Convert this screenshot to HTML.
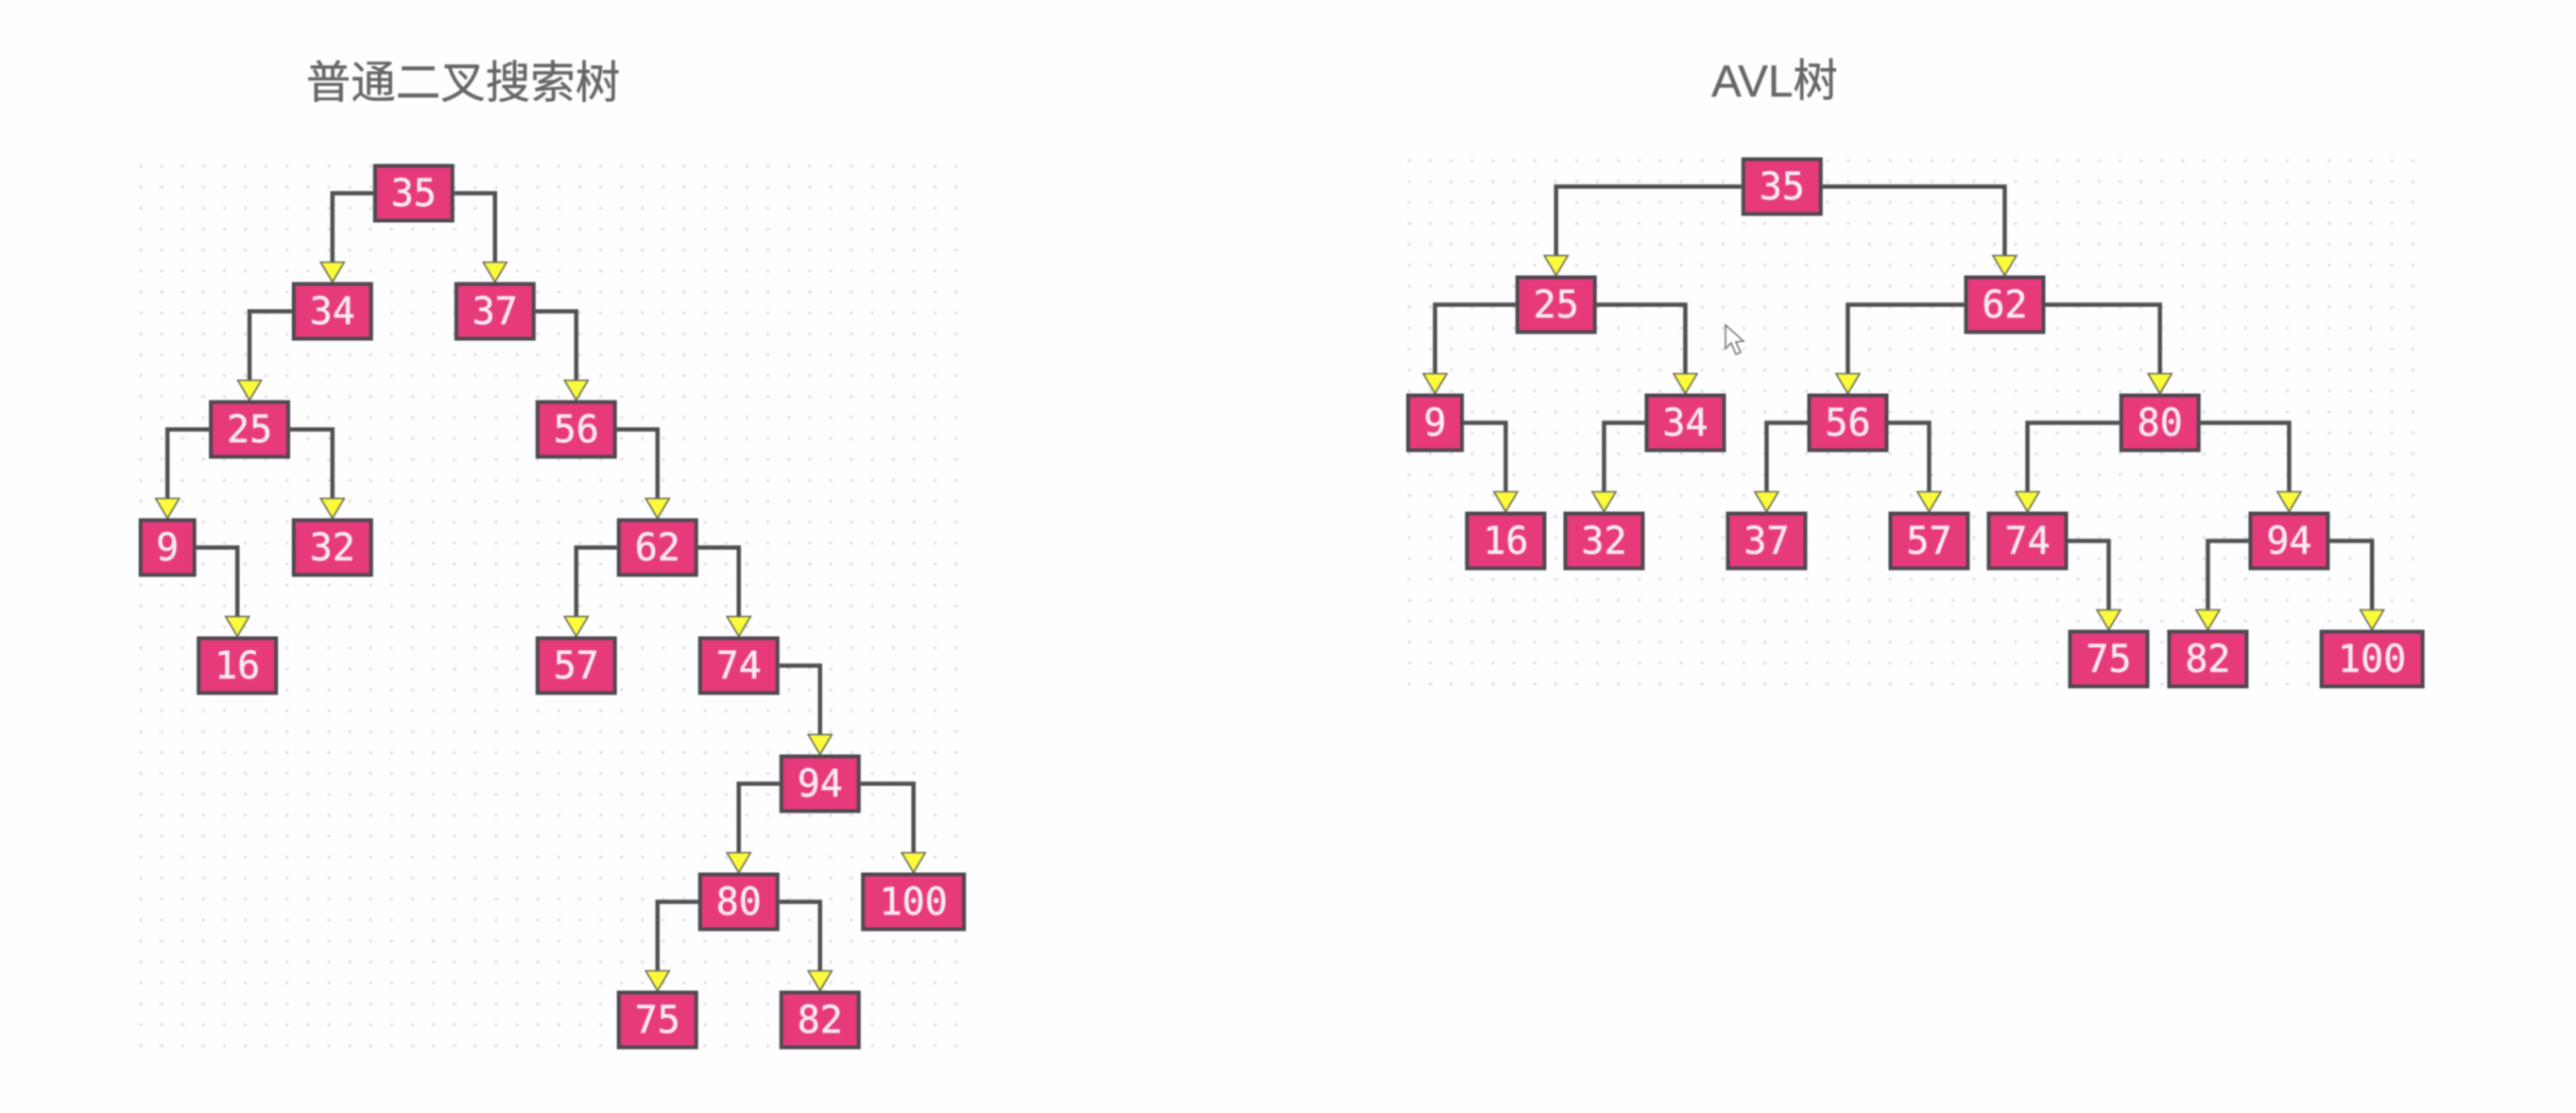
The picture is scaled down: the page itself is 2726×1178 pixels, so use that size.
<!DOCTYPE html>
<html lang="zh">
<head>
<meta charset="utf-8">
<title>普通二叉搜索树 与 AVL树</title>
<style>
html,body{margin:0;padding:0;background:#fefefe;}
body{width:2726px;height:1178px;overflow:hidden;}
svg{display:block;filter:blur(0.7px);}
.title{font-family:"Liberation Sans","Noto Sans CJK SC",sans-serif;font-size:47.5px;fill:#666666;stroke:#666666;stroke-width:0.4px;text-anchor:middle;}
.label{font-family:"DejaVu Sans Mono","Liberation Mono",monospace;font-size:40px;fill:#fdeaf4;stroke:#fdeaf4;stroke-width:0.5px;text-anchor:middle;}
</style>
</head>
<body>
<svg id="stage" xmlns="http://www.w3.org/2000/svg" width="2726" height="1178" viewBox="0 0 2726 1178">
  <text class="title" x="490" y="104">普通二叉搜索树</text>
  <text class="title" x="1878" y="102">AVL树</text>
  <g id="bst"></g>
  <g id="avl"></g>
  <path d="M1826 344 L1826 369 L1832 363 L1837 375 L1842 373 L1837 362 L1845 361 Z" fill="#ffffff" stroke="#777777" stroke-width="1.6"/>
</svg>
<script>
const bstValues = [35, 34, 37, 25, 9, 32, 16, 56, 62, 57, 74, 94, 80, 100, 75, 82];
const bstParents = [-1, 0, 0, 1, 3, 3, 4, 2, 7, 8, 8, 10, 11, 11, 12, 12];
const bstColumns = [0, -1, 1, -2.02, -3.03, -1, -2.17, 2, 3, 2, 4, 5, 4, 6.15, 3, 5];

const avlValues = [35, 25, 62, 9, 34, 16, 32, 56, 80, 37, 57, 74, 94, 75, 82, 100];
const avlParents = [-1, 0, 0, 1, 1, 3, 4, 2, 2, 7, 7, 8, 8, 11, 12, 12];
const avlColumns = [0, -2.78, 2.74, -4.27, -1.19, -3.4, -2.19, 0.81, 4.65, -0.19, 1.81, 3.02, 6.24, 4.02, 5.24, 7.26];

const SVG_NS = 'http://www.w3.org/2000/svg';
const COL_STEP = 86;
const LEVEL_STEP = 125;
const NODE_H = 62;
const ARROW_H = 21;
const ARROW_W = 25;
const DOT_STEP_X = 22.12;
const DOT_STEP_Y = 22.16;

function nodeWidth(value) {
  return 36 + 25 * String(value).length;
}

function depthOf(parents, i) {
  let d = 0;
  while (parents[i] >= 0) {
    i = parents[i];
    d++;
  }
  return d;
}

function make(tag, attrs, parent) {
  const el = document.createElementNS(SVG_NS, tag);
  for (const k in attrs) el.setAttribute(k, attrs[k]);
  parent.appendChild(el);
  return el;
}

function drawDots(group, x0, y0, cols, rows, prefix) {
  const dots = document.createElementNS(SVG_NS, 'g');
  
  
  group.appendChild(dots);
  for (let r = 0; r < rows; r++) {
    for (let c = 0; c < cols; c++) {
      make('rect', {x: x0 + c * DOT_STEP_X - 1.5, y: y0 + r * DOT_STEP_Y - 1.5, width: 3, height: 3, fill: '#e0e0e0'}, dots);
    }
  }
}

function drawTree(group, values, parents, columns, originX, originY, prefix) {
  const xScale = function (col) { return originX + col * COL_STEP; };
  const yScale = function (depth) { return originY + depth * LEVEL_STEP; };

  values.forEach(function (value, i) {
    const p = parents[i];
    if (p < 0) return;
    const cx = xScale(columns[i]);
    const top = yScale(depthOf(parents, i));
    const px = xScale(columns[p]);
    const py = yScale(depthOf(parents, p)) + NODE_H / 2;
    const side = cx < px ? px - nodeWidth(values[p]) / 2 : px + nodeWidth(values[p]) / 2;

    const edge = document.createElementNS(SVG_NS, 'path');
    edge.setAttribute('d', 'M' + side + ' ' + py + ' H' + cx + ' V' + (top - ARROW_H));
    edge.setAttribute('fill', 'none');
    edge.setAttribute('stroke', '#4f4f4f');
    edge.setAttribute('stroke-width', '4.5');
    
    
    group.appendChild(edge);

    const arrow = document.createElementNS(SVG_NS, 'polygon');
    arrow.setAttribute('points', (cx - ARROW_W / 2) + ',' + (top - ARROW_H) + ' ' + (cx + ARROW_W / 2) + ',' + (top - ARROW_H) + ' ' + cx + ',' + top);
    arrow.setAttribute('fill', '#fbfb3c');
    arrow.setAttribute('stroke', '#666655');
    arrow.setAttribute('stroke-width', '1.6');
    
    
    group.appendChild(arrow);
  });

  values.forEach(function (value, i) {
    const cx = xScale(columns[i]);
    const top = yScale(depthOf(parents, i));
    const w = nodeWidth(value);

    const box = document.createElementNS(SVG_NS, 'rect');
    box.setAttribute('x', cx - w / 2 + 2);
    box.setAttribute('y', top + 2);
    box.setAttribute('width', w - 4);
    box.setAttribute('height', NODE_H - 4);
    box.setAttribute('fill', '#e63a7a');
    box.setAttribute('stroke', '#4d4850');
    box.setAttribute('stroke-width', '4');
    
    
    group.appendChild(box);

    const label = document.createElementNS(SVG_NS, 'text');
    label.setAttribute('class', 'label');
    label.setAttribute('x', cx);
    label.setAttribute('y', top + 44.5);
    
    
    label.textContent = String(value);
    group.appendChild(label);
  });
}

const bstGroup = document.getElementById('bst');
const avlGroup = document.getElementById('avl');
drawDots(bstGroup, 149, 176, 40, 43, 'bst');
drawDots(avlGroup, 1491.5, 170, 49, 26, 'avl');
drawTree(bstGroup, bstValues, bstParents, bstColumns, 437.8, 173.5, 'bst');
drawTree(avlGroup, avlValues, avlParents, avlColumns, 1885.8, 166.5, 'avl');
</script>
</body>
</html>
